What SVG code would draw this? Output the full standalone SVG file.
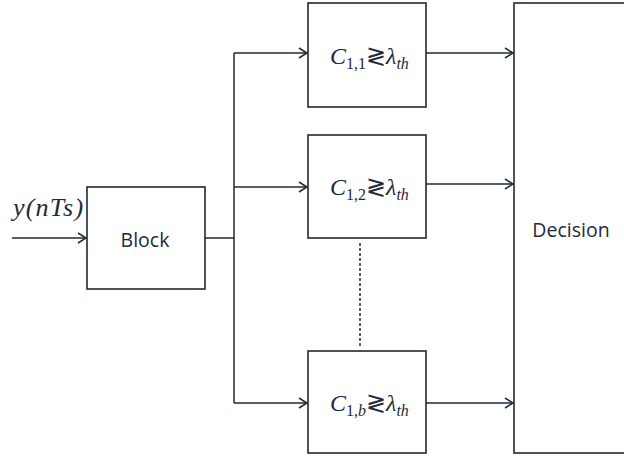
<svg xmlns="http://www.w3.org/2000/svg" width="624" height="462" viewBox="0 0 624 462">
<defs>
<marker id="arr" markerWidth="12" markerHeight="12" refX="9" refY="6" orient="auto" markerUnits="userSpaceOnUse">
<path d="M1,1 L9,6 L1,11" fill="none" stroke="#1e2a36" stroke-width="1.5"/>
</marker>
</defs>
<style>
.box{fill:#fff;stroke:#1e2a36;stroke-width:1.6}
.ln{fill:none;stroke:#1e2a36;stroke-width:1.5}
.lbl{font-family:"Open Sans","Noto Sans",sans-serif;font-size:19.5px;fill:#1e2a3a}
.m{font-family:"Liberation Serif",serif;font-style:italic;fill:#1e2a3a}
</style>
<rect width="624" height="462" fill="#fff"/>
<g id="connectors">
<path class="ln" d="M12,238 H86" marker-end="url(#arr)"/>
<path class="ln" d="M205,238 H234"/>
<path class="ln" d="M234,53 V403"/>
<path class="ln" d="M234,53 H307" marker-end="url(#arr)"/>
<path class="ln" d="M234,187 H307" marker-end="url(#arr)"/>
<path class="ln" d="M234,403 H307" marker-end="url(#arr)"/>
<path class="ln" d="M426,53 H513" marker-end="url(#arr)"/>
<path class="ln" d="M426,184 H513" marker-end="url(#arr)"/>
<path class="ln" d="M426,403 H513" marker-end="url(#arr)"/>
<path class="ln" d="M360,243 V347" stroke-dasharray="3,2"/>
</g>
<g id="input">
<text class="m" x="13" y="216" font-size="26" letter-spacing="1.2">y(nTs)</text>
</g>
<g id="block">
<rect class="box" x="87" y="187" width="118" height="102"/>
<text class="lbl" x="145" y="247" text-anchor="middle">Block</text>
</g>
<g id="c11">
<rect class="box" x="308" y="3" width="118" height="104"/>
<text class="m" x="330" y="64" font-size="24">C<tspan font-size="16" font-style="normal" dy="5">1,1</tspan><tspan font-style="normal" dy="-5">≷</tspan>λ<tspan font-size="16" dy="5">th</tspan></text>
</g>
<g id="c12">
<rect class="box" x="308" y="135" width="118" height="103"/>
<text class="m" x="330" y="195" font-size="24">C<tspan font-size="16" font-style="normal" dy="5">1,2</tspan><tspan font-style="normal" dy="-5">≷</tspan>λ<tspan font-size="16" dy="5">th</tspan></text>
</g>
<g id="c1b">
<rect class="box" x="308" y="351" width="118" height="102"/>
<text class="m" x="330" y="411" font-size="24">C<tspan font-size="16" dy="5"><tspan font-style="normal">1,</tspan>b</tspan><tspan font-style="normal" dy="-5">≷</tspan>λ<tspan font-size="16" dy="5">th</tspan></text>
</g>
<g id="decision">
<rect class="box" x="514" y="3" width="120" height="450"/>
<text class="lbl" x="571" y="237" text-anchor="middle">Decision</text>
</g>
</svg>
